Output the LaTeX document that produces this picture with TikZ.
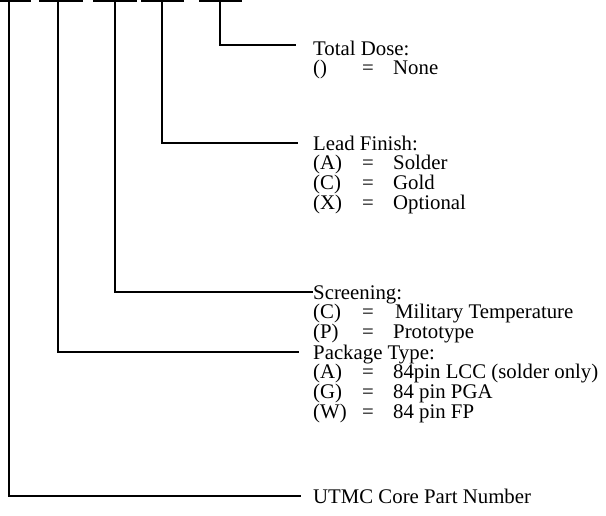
\documentclass[tikz,border=0pt]{standalone}
\usepackage{fontspec}
\setmainfont{Liberation Serif}
\newcommand{\coderow}[2]{\makebox[49pt][l]{#1}\makebox[31pt][l]{=}#2}
\begin{document}
\begin{tikzpicture}[x=1pt,y=-1pt,
  wire/.style={line width=2pt,line cap=rect},
  bar/.style={line width=2.5pt},
  lbl/.style={anchor=base west,inner sep=0pt,font=\fontsize{20.8pt}{20pt}\selectfont}]
\useasboundingbox (0,0) rectangle (606,515);
% top bars
\draw[bar] (0,0.5) -- (31,0.5);
\draw[bar] (39,0.5) -- (83,0.5);
\draw[bar] (93,0.5) -- (137,0.5);
\draw[bar] (141,0.5) -- (184,0.5);
\draw[bar] (199,0.5) -- (242,0.5);
% drop points and ends
\coordinate (p1) at (9,0);
\coordinate (p2) at (58,0);
\coordinate (p3) at (115,0);
\coordinate (p4) at (162,0);
\coordinate (p5) at (220,0);
\coordinate (e1) at (300,496);
\coordinate (e2) at (298,352);
\coordinate (e3) at (312,292);
\coordinate (e4) at (297,143);
\coordinate (e5) at (295,45);
\draw[wire] (p1) |- (e1);
\draw[wire] (p2) |- (e2);
\draw[wire] (p3) |- (e3);
\draw[wire] (p4) |- (e4);
\draw[wire] (p5) |- (e5);
% Total Dose
\node[lbl] (td) at (313,55) {Total Dose:};
\node[lbl] (td1) at (313,74.7) {\coderow{()}{None}};
% Lead Finish
\node[lbl] (lf) at (313,150) {Lead Finish:};
\node[lbl] (lf1) at (313,169.7) {\coderow{(A)}{Solder}};
\node[lbl] (lf2) at (313,189.4) {\coderow{(C)}{Gold}};
\node[lbl] (lf3) at (313,209.1) {\coderow{(X)}{Optional}};
% Screening
\node[lbl] (sc) at (313,299) {Screening:};
\node[lbl] (sc1) at (313,318.7) {\coderow{(C)}{\hspace{2pt}Military Temperature}};
\node[lbl] (sc2) at (313,338.4) {\coderow{(P)}{Prototype}};
% Package Type
\node[lbl] (pt) at (313,359) {Package Type:};
\node[lbl] (pt1) at (313,378.7) {\coderow{(A)}{84pin LCC (solder only)}};
\node[lbl] (pt2) at (313,398.4) {\coderow{(G)}{84 pin PGA}};
\node[lbl] (pt3) at (313,418.1) {\coderow{(W)}{84 pin FP}};
% UTMC
\node[lbl] (ut) at (313,503) {UTMC Core Part Number};
\end{tikzpicture}
\end{document}
